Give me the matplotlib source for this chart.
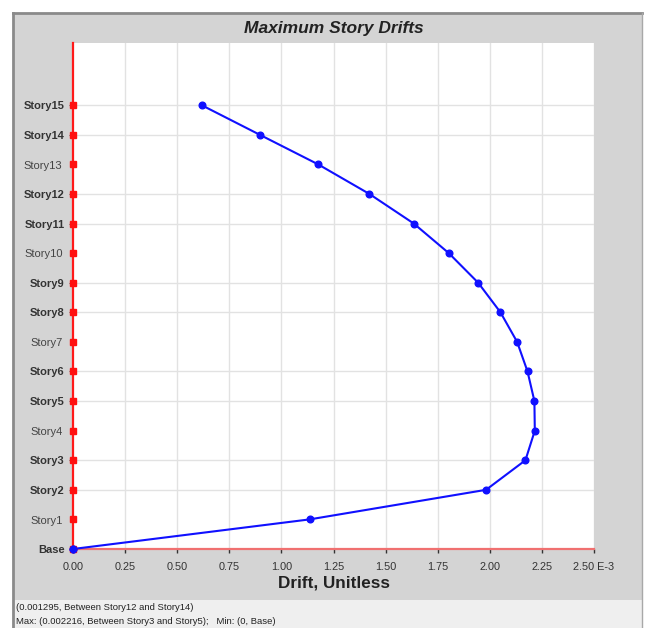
import matplotlib
matplotlib.use("Agg")
import matplotlib.pyplot as plt
from matplotlib.patches import Rectangle
from matplotlib.lines import Line2D

plt.rcParams['font.family'] = ['Liberation Sans', 'DejaVu Sans']

stories = ["Base", "Story1", "Story2", "Story3", "Story4", "Story5", "Story6", "Story7",
           "Story8", "Story9", "Story10", "Story11", "Story12", "Story13", "Story14", "Story15"]
drift_e3 = [0.0, 1.135, 1.982, 2.171, 2.216, 2.214, 2.181, 2.131,
            2.051, 1.944, 1.803, 1.635, 1.422, 1.176, 0.896, 0.617]
grid_stories = ["Base", "Story2", "Story3", "Story5", "Story6", "Story8", "Story9",
                "Story11", "Story12", "Story14", "Story15"]
x_ticks = [0.0, 0.25, 0.5, 0.75, 1.0, 1.25, 1.5, 1.75, 2.0, 2.25, 2.5]
x_tick_labels = ["0.00", "0.25", "0.50", "0.75", "1.00", "1.25", "1.50", "1.75", "2.00", "2.25", "2.50 E-3"]
title = "Maximum Story Drifts"
xlabel = "Drift, Unitless"
status1 = "(0.001295, Between Story12 and Story14)"
status2 = "Max: (0.002216, Between Story3 and Story5);   Min: (0, Base)"

W, H = 646, 628
fig = plt.figure(figsize=(W / 100, H / 100), dpi=100)
fig.patch.set_facecolor("white")

def px(x0, y0, w, h):
    return (x0 / W, 1 - (y0 + h) / H, w / W, h / H)

# panel background
bx, by, bw, bh = px(13, 13, 629, 587)
fig.patches.append(Rectangle((bx, by), bw, bh, transform=fig.transFigure,
                             facecolor="#d4d4d4", edgecolor="none", zorder=0))
sx, sy, sw, sh = px(13, 600, 629, 28)
fig.patches.append(Rectangle((sx, sy), sw, sh, transform=fig.transFigure,
                             facecolor="#efefef", edgecolor="none", zorder=0))
# borders
fig.lines.append(Line2D([13 / W, 13 / W], [0, 1 - 13 / H], transform=fig.transFigure,
                        color="#8a8a8a", lw=2.0, zorder=0.5))
fig.lines.append(Line2D([13 / W, 642 / W], [1 - 13 / H, 1 - 13 / H], transform=fig.transFigure,
                        color="#8a8a8a", lw=2.0, zorder=0.5))
fig.lines.append(Line2D([642 / W, 642 / W], [0, 1 - 13 / H], transform=fig.transFigure,
                        color="#a8a8a8", lw=1.0, zorder=0.5))

ax = fig.add_axes(px(73, 43, 521, 506))
ax.set_zorder(2)
ax.set_facecolor("white")
n = len(stories)
ypos = list(range(n))
ax.set_xlim(0, 2.5)
ax.set_ylim(0, 17.1)

# gridlines
for xv in x_ticks[1:]:
    ax.axvline(xv, color="#e2e2e2", lw=1.0, zorder=1)
for s in grid_stories[1:]:
    ax.axhline(stories.index(s), color="#e2e2e2", lw=1.0, zorder=1)

for sp in ["top", "right"]:
    ax.spines[sp].set_visible(False)
ax.spines["left"].set_color("#ff1a1a")
ax.spines["left"].set_linewidth(1.6)
ax.spines["bottom"].set_color("#f07070")
ax.spines["bottom"].set_linewidth(1.6)
ax.spines["left"].set_zorder(3)

ax.plot(drift_e3, ypos, color="#1010ff", lw=1.5, marker="o", ms=4.8, zorder=4, clip_on=False)
ax.plot([0] * n, ypos, ls="none", marker="s", ms=4, color="#ff1010", zorder=5, clip_on=False)
ax.plot([0], [0], ls="none", marker="o", ms=4.8, color="#1010ff", zorder=6, clip_on=False)

ax.set_xticks(x_ticks)
ax.set_xticklabels(x_tick_labels, fontsize=7.8, color="#333333")
ax.tick_params(axis="x", length=3, width=1, color="#333333", pad=6)

gy = [stories.index(s) for s in grid_stories]
ax.set_yticks(gy)
ax.set_yticklabels(grid_stories, fontsize=8, fontweight="bold", color="#333333")
ax.tick_params(axis="y", length=3, width=0.8, color="#555555", pad=3)
for i, s in enumerate(stories):
    if s not in grid_stories:
        ax.annotate(s, xy=(0, i), xycoords=ax.get_yaxis_transform(),
                    xytext=(-7.5, -1), textcoords="offset points",
                    ha="right", va="center", fontsize=8, color="#444444")

ax.set_xlabel(xlabel, fontsize=12.3, fontweight="bold", color="#222222", labelpad=3)
fig.text(334 / W, 1 - 28 / H, title, ha="center", va="center", fontsize=12.5,
         fontweight="bold", fontstyle="italic", color="#222222")

fig.text(16 / W, 1 - 607 / H, status1, ha="left", va="center", fontsize=6.8, color="#222222")
fig.text(16 / W, 1 - 621 / H, status2, ha="left", va="center", fontsize=6.8, color="#222222")

fig.savefig("out.png", dpi=100)
